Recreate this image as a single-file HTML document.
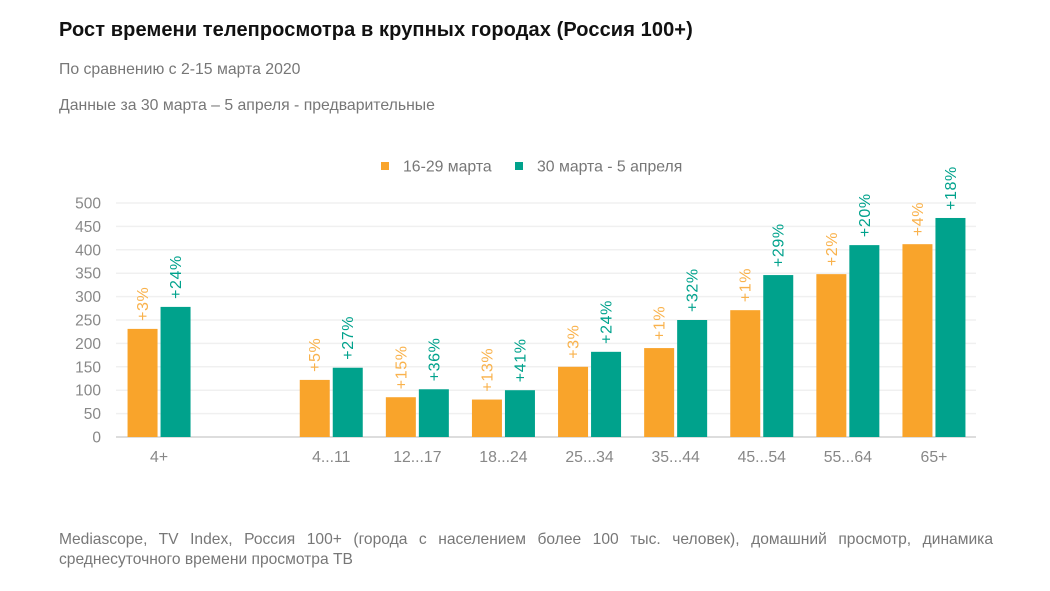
<!DOCTYPE html>
<html><head><meta charset="utf-8"><style>
body{margin:0;background:#fff;width:1050px;height:591px;overflow:hidden;font-family:"Liberation Sans",sans-serif}
.t{position:absolute;left:59px;white-space:nowrap}
</style></head><body>
<div class="t" style="top:19px;font-size:20px;font-weight:bold;color:#111;letter-spacing:0.1px">Рост времени телепросмотра в крупных городах (Россия 100+)</div>
<div class="t" style="top:61px;font-size:15.8px;color:#777">По сравнению с 2-15 марта 2020</div>
<div class="t" style="top:97px;font-size:15.8px;color:#777">Данные за 30 марта – 5 апреля - предварительные</div>
<div style="position:absolute;left:59px;top:530px;width:934px;font-size:15.6px;line-height:20px;color:#777;text-align:justify;text-align-last:left">Mediascope, TV Index, Россия 100+ (города с населением более 100 тыс. человек), домашний просмотр, динамика среднесуточного времени просмотра ТВ</div>
<svg id="c" width="1050" height="591" style="position:absolute;left:0;top:0" font-family="Liberation Sans, sans-serif"></svg>
<script>
const categories=["4+","","4...11","12...17","18...24","25...34","35...44","45...54","55...64","65+"];
const seriesA=[231,null,122,85,80,150,190,271,348,412];
const seriesB=[278,null,148,102,100,182,250,346,410,468];
const labelsA=["+3%","","+5%","+15%","+13%","+3%","+1%","+1%","+2%","+4%"];
const labelsB=["+24%","","+27%","+36%","+41%","+24%","+32%","+29%","+20%","+18%"];
const ticks=[0,50,100,150,200,250,300,350,400,450,500];
const NS="http://www.w3.org/2000/svg",svg=document.getElementById('c');
const x0=116,step=86.1,y0=437,k=0.468;
const Y=v=>y0-v*k, X=i=>x0+step*i+step/2;
function mk(t,a,p){const e=document.createElementNS(NS,t);for(const n in a)e.setAttribute(n,a[n]);(p||svg).appendChild(e);return e;}
ticks.forEach(v=>{
 const l=mk('line',{x1:x0,x2:976,y1:Y(v),y2:Y(v),stroke:v?'#f0f0f0':'#ddd','stroke-width':v?1.5:2});
 
 
 const t=mk('text',{x:101,y:Y(v)+5.5,'text-anchor':'end','font-size':15.5,fill:'#888'});t.textContent=v;
 
 
});
categories.forEach((c,i)=>{
 const t=mk('text',{x:X(i),y:462,'text-anchor':'middle','font-size':15.8,fill:'#888'});t.textContent=c;
 
 
 [[seriesA,labelsA,'#f9a42b','#f9b24c',-31.5],[seriesB,labelsB,'#00a28c','#00a28c',1.5]].forEach(([s,lb,col,tc,off])=>{
  if(s[i]==null)return;
  const b=mk('rect',{x:X(i)+off,y:Y(s[i]),width:30,height:s[i]*k,fill:col});
  
  
  const cx=X(i)+off+20.5,cy=Y(s[i])-8;
  const t=mk('text',{x:cx,y:cy,'font-size':16,'letter-spacing':0.6,fill:tc,transform:`rotate(-90 ${cx} ${cy})`});t.textContent=lb[i];
  
  
 });
});
[[381,'#f9a42b','16-29 марта'],[515,'#00a28c','30 марта  - 5 апреля']].forEach(([x,c,s])=>{
 const g=mk('g',{});
 
 
 mk('rect',{x:x,y:162,width:8,height:8,fill:c},g);
 const t=mk('text',{x:x+22,y:171.5,'font-size':15.8,fill:'#777','xml:space':'preserve'},g);t.textContent=s;
});
</script>
</body></html>
